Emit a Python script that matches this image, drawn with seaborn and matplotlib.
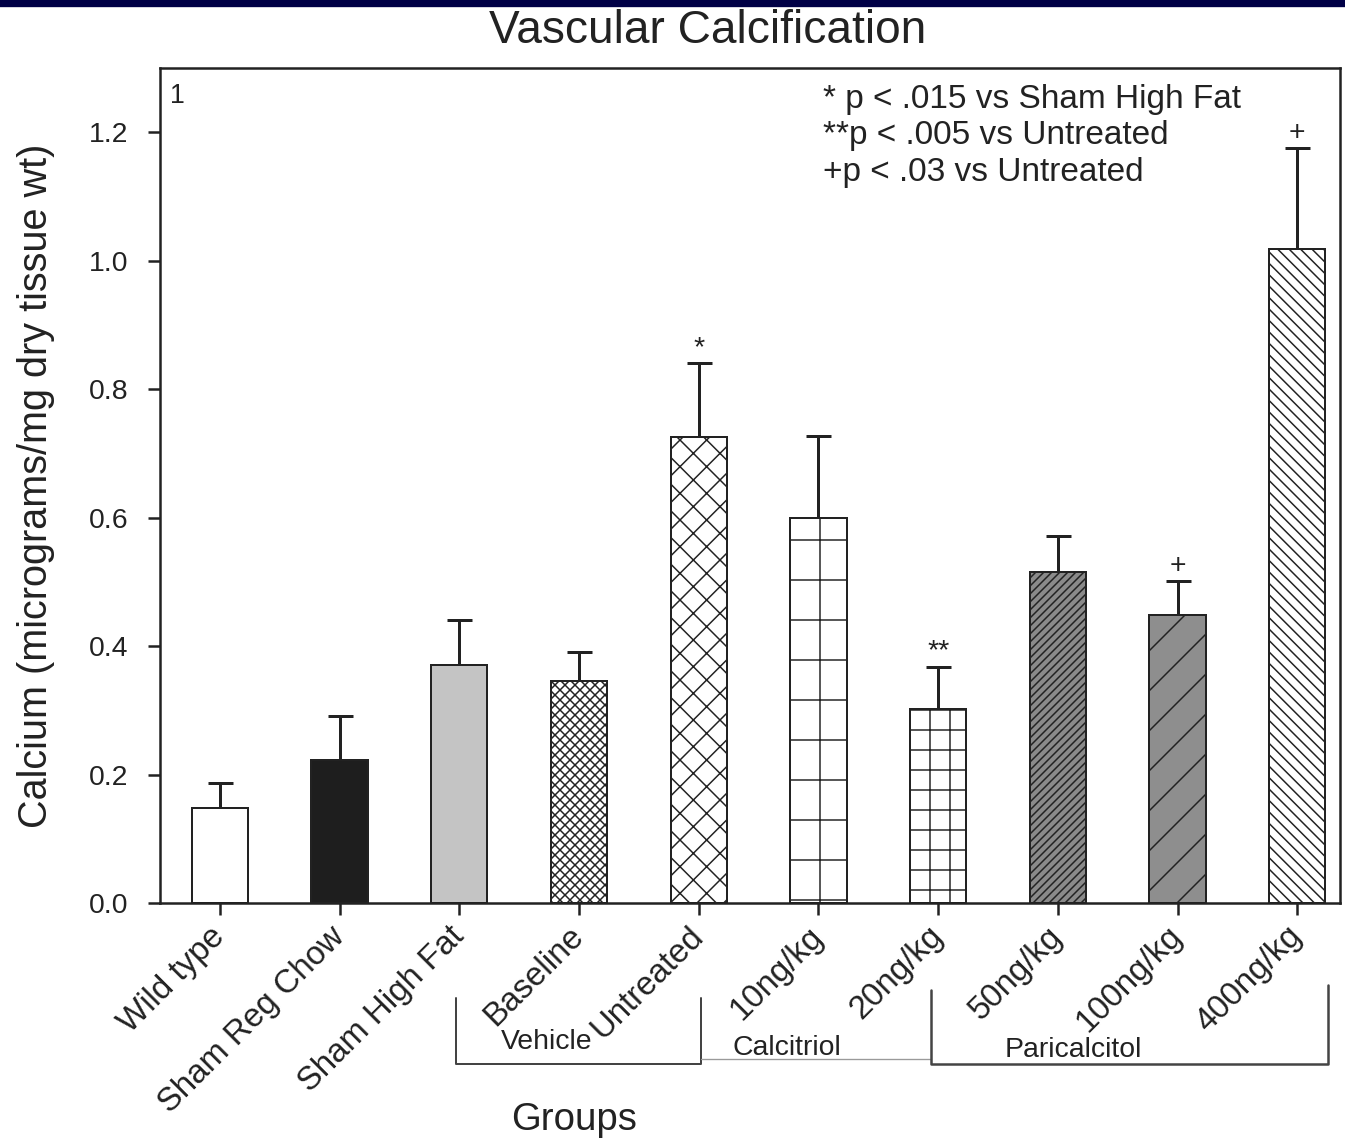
import matplotlib
matplotlib.use("Agg")
import matplotlib.pyplot as plt
import matplotlib.transforms as mtransforms
from matplotlib.patches import Rectangle
import numpy as np
import seaborn as sns

# values
groups = ["Wild type", "Sham Reg Chow", "Sham High Fat", "Baseline", "Untreated",
          "10ng/kg", "20ng/kg", "50ng/kg", "100ng/kg", "400ng/kg"]
calcium = [0.148, 0.223, 0.370, 0.346, 0.725, 0.599, 0.302, 0.515, 0.448, 1.018]
sem = [0.039, 0.068, 0.070, 0.045, 0.115, 0.128, 0.065, 0.056, 0.053, 0.157]
marks = ["", "", "", "", "*", "", "**", "", "+", "+"]
notes = ["* p < .015 vs Sham High Fat",
         "**p < .005 vs Untreated",
         "+p < .03 vs Untreated"]
treatments = ["Vehicle", "Calcitriol", "Paricalcitol"]

# styling
face_colors = ["white", "#1e1e1e", "#c4c4c4", "white", "white",
               "white", "white", "#8a8a8a", "#8e8e8e", "white"]
hatches = ["", "", "", "x" * 8, "xxx", "+", "++", "/" * 10, "//", "\\" * 7]
ink = "#222222"
DPI = 240  # hatch tile is one inch, so dpi sets hatch spacing

sns.set_theme(style="ticks")
plt.rcParams["font.family"] = ["Liberation Sans", "DejaVu Sans"]
plt.rcParams["hatch.linewidth"] = 0.45
plt.rcParams["text.color"] = ink
plt.rcParams["axes.labelcolor"] = ink
plt.rcParams["xtick.color"] = ink
plt.rcParams["ytick.color"] = ink

fig = plt.figure(figsize=(1345 / DPI, 1139 / DPI), dpi=DPI)
ax = fig.add_axes([0.119, 0.2072, 0.8773, 0.7331])

sns.barplot(x=groups, y=calcium, hue=groups, palette=face_colors, legend=False,
            width=0.47, edgecolor=ink, linewidth=0.6, errorbar=None,
            saturation=1, ax=ax, zorder=2)

bars = sorted(ax.patches, key=lambda p: p.get_x())
for bar, h in zip(bars, hatches):
    bar.set_hatch(h)

x = np.arange(len(groups))
ax.errorbar(x, calcium, yerr=[np.zeros(len(sem)), sem], fmt="none",
            ecolor=ink, elinewidth=0.9, capsize=3.75, capthick=0.9, zorder=1)

for i, (c, s, m) in enumerate(zip(calcium, sem, marks)):
    if m:
        ax.annotate(m, (i, c + s), xytext=(0, 0.8), textcoords="offset points",
                    ha="center", va="bottom", fontsize=8.5)

ax.set_xlim(-0.5, 9.357)
ax.set_ylim(0, 1.3)
ax.set_yticks(np.arange(0, 1.21, 0.2))
ax.set_yticklabels([f"{v:.1f}" for v in np.arange(0, 1.21, 0.2)], fontsize=8.5)
ax.set_xticks(x)
ax.set_xticklabels(groups, rotation=45, ha="right", va="center",
                   rotation_mode="anchor", fontsize=9.9)
ax.tick_params(axis="both", direction="out", length=3.6, width=0.75,
               top=False, right=False)
ax.tick_params(axis="x", pad=5)
ax.tick_params(axis="y", pad=6)
for sp in ax.spines.values():
    sp.set_linewidth(0.75)
    sp.set_color(ink)

ax.set_ylabel("Calcium (micrograms/mg dry tissue wt)", fontsize=11.9, labelpad=10)
ax.set_xlabel("Groups", fontsize=11.5)
ax.xaxis.set_label_coords(0.351, -0.238)

fig.text(0.526, 0.9725, "Vascular Calcification", ha="center", va="center",
         fontsize=13.8)
ax.text(0.0085, 0.982, "1", transform=ax.transAxes, ha="left", va="top",
        fontsize=8)
for i, line in enumerate(notes):
    ax.text(0.562, 0.9626 - i * 0.0437, line, transform=ax.transAxes,
            ha="left", va="center", fontsize=10)

# treatment brackets under the tick labels
trans = mtransforms.blended_transform_factory(ax.transData, ax.transAxes)
ax.plot([1.97, 1.97, 4.02, 4.02], [-0.114, -0.193, -0.193, -0.114],
        transform=trans, clip_on=False, color="#444444", lw=0.6)
ax.plot([4.02, 5.94], [-0.187, -0.187], transform=trans, clip_on=False,
        color="#9a9a9a", lw=0.4)
ax.plot([5.94, 5.94, 9.26, 9.26], [-0.104, -0.193, -0.193, -0.098],
        transform=trans, clip_on=False, color="#444444", lw=0.75)
for name, cx, cy in zip(treatments, [2.73, 4.74, 7.13], [-0.167, -0.174, -0.176]):
    ax.text(cx, cy, name, transform=trans, ha="center", va="center",
            fontsize=8.5)

# dark band along the top edge of the slide
fig.add_artist(Rectangle((0, 1 - 5 / 1139), 1, 5 / 1139,
                         transform=fig.transFigure, color="#000046", zorder=0))

fig.savefig("out.png", dpi=DPI)
